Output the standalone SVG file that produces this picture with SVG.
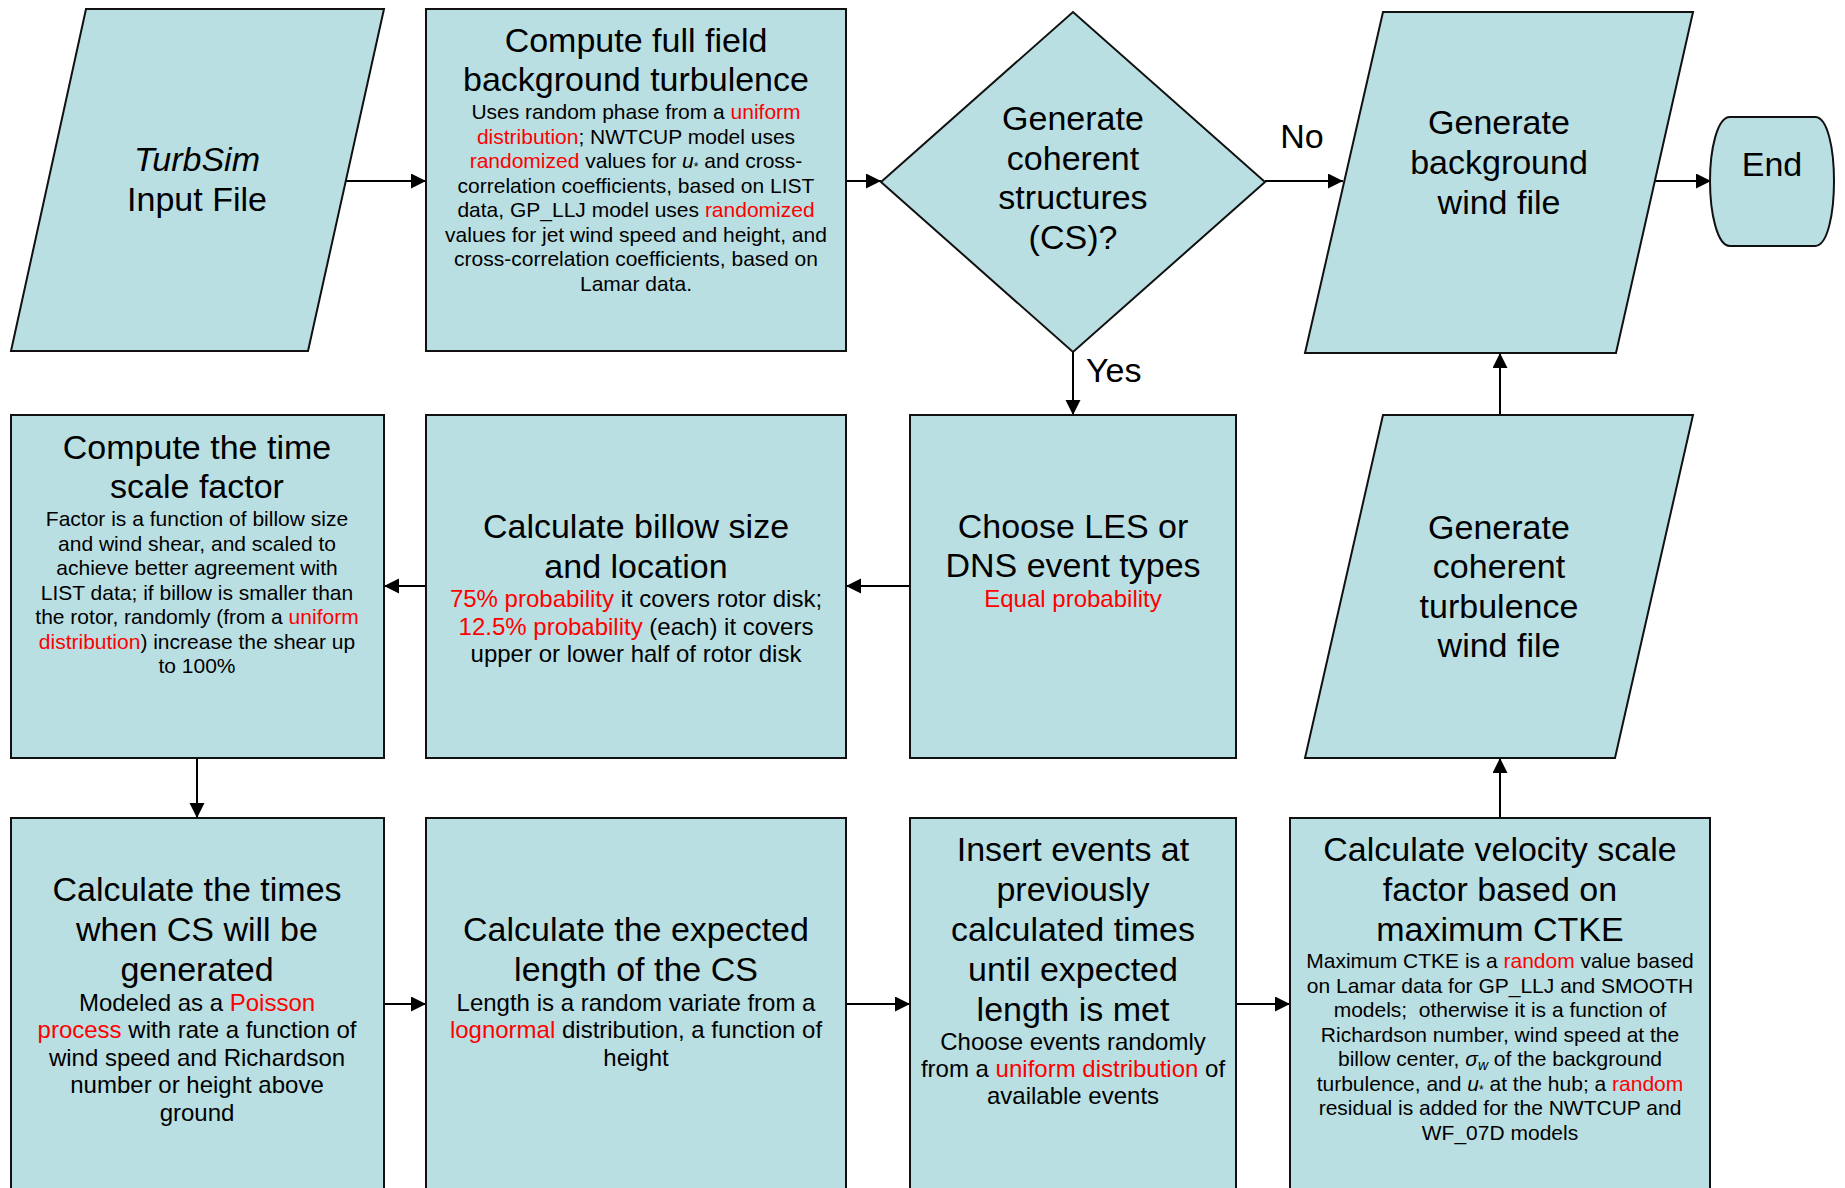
<svg xmlns="http://www.w3.org/2000/svg" width="1845" height="1188" viewBox="0 0 1845 1188">
<defs>
<style>
.n{fill:#B9DFE3;stroke:#111;stroke-width:2}
.c{stroke:#000;stroke-width:2;fill:none;marker-end:url(#ah)}
text{font-family:"Liberation Sans",Arial,sans-serif;fill:#000;text-anchor:middle}
.t{font-size:34px}
.b{font-size:21px}
.m{font-size:24px}
.r{fill:#FF0000}
.i{font-style:italic}
</style>
<marker id="ah" markerUnits="userSpaceOnUse" markerWidth="16" markerHeight="16" refX="15" refY="7.5" orient="auto">
<path d="M0,0 L15,7.5 L0,15 Z" fill="#000"/>
</marker>
</defs>
<rect width="1845" height="1188" fill="#fff"/>

<g id="connectors">
<path class="c" d="M346,181 L426,181"/>
<path class="c" d="M846,181 L881,181"/>
<path class="c" d="M1265,181 L1343,181"/>
<path class="c" d="M1655,181 L1711,181"/>
<path class="c" d="M1073,352 L1073,415"/>
<path class="c" d="M910,586 L846,586"/>
<path class="c" d="M426,586 L384,586"/>
<path class="c" d="M1500,415 L1500,353"/>
<path class="c" d="M197,758 L197,818"/>
<path class="c" d="M384,1004 L426,1004"/>
<path class="c" d="M846,1004 L910,1004"/>
<path class="c" d="M1236,1004 L1290,1004"/>
<path class="c" d="M1500,818 L1500,758"/>
<text class="t" x="1302" y="148">No</text>
<text class="t" x="1086" y="382" style="text-anchor:start">Yes</text>
</g>

<g id="input">
<path class="n" d="M86,9 L384,9 L308,351 L11,351 Z"/>
<text class="t i" x="197" y="171">TurbSim</text>
<text class="t" x="197" y="211">Input File</text>
</g>

<g id="background-turbulence">
<rect class="n" x="426" y="9" width="420" height="342"/>
<text class="t" x="636" y="52">Compute full field</text>
<text class="t" x="636" y="91">background turbulence</text>
<text class="b" x="636" y="119">Uses random phase from a <tspan class="r">uniform</tspan></text>
<text class="b" x="636" y="143.5"><tspan class="r">distribution</tspan>; NWTCUP model uses</text>
<text class="b" x="636" y="168"><tspan class="r">randomized</tspan> values for <tspan class="i">u</tspan><tspan font-size="12" dy="3">*</tspan><tspan dy="-3"> and cross-</tspan></text>
<text class="b" x="636" y="192.5">correlation coefficients, based on LIST</text>
<text class="b" x="636" y="217">data, GP_LLJ model uses <tspan class="r">randomized</tspan></text>
<text class="b" x="636" y="241.5">values for jet wind speed and height, and</text>
<text class="b" x="636" y="266">cross-correlation coefficients, based on</text>
<text class="b" x="636" y="290.5">Lamar data.</text>
</g>

<g id="decision">
<path class="n" d="M881,182 L1073,12 L1265,182 L1073,352 Z"/>
<text class="t" x="1073" y="130">Generate</text>
<text class="t" x="1073" y="170">coherent</text>
<text class="t" x="1073" y="209">structures</text>
<text class="t" x="1073" y="249">(CS)?</text>
</g>

<g id="background-wind-file">
<path class="n" d="M1383,12 L1693,12 L1616,353 L1305,353 Z"/>
<text class="t" x="1499" y="134">Generate</text>
<text class="t" x="1499" y="174">background</text>
<text class="t" x="1499" y="214">wind file</text>
</g>

<g id="end">
<path class="n" d="M1730,117 L1815,117 C1828,117 1834,150 1834,181 C1834,212 1828,246 1815,246 L1730,246 C1717,246 1710,212 1710,181 C1710,150 1717,117 1730,117 Z"/>
<text class="t" x="1772" y="176">End</text>
</g>

<g id="time-scale">
<rect class="n" x="11" y="415" width="373" height="343"/>
<text class="t" x="197" y="459">Compute the time</text>
<text class="t" x="197" y="498">scale factor</text>
<text class="b" x="197" y="526">Factor is a function of billow size</text>
<text class="b" x="197" y="550.5">and wind shear, and scaled to</text>
<text class="b" x="197" y="575">achieve better agreement with</text>
<text class="b" x="197" y="599.5">LIST data; if billow is smaller than</text>
<text class="b" x="197" y="624">the rotor, randomly (from a <tspan class="r">uniform</tspan></text>
<text class="b" x="197" y="648.5"><tspan class="r">distribution</tspan>) increase the shear up</text>
<text class="b" x="197" y="673">to 100%</text>
</g>

<g id="billow">
<rect class="n" x="426" y="415" width="420" height="343"/>
<text class="t" x="636" y="538">Calculate billow size</text>
<text class="t" x="636" y="578">and location</text>
<text class="m" x="636" y="607"><tspan class="r">75% probability</tspan> it covers rotor disk;</text>
<text class="m" x="636" y="635"><tspan class="r">12.5% probability</tspan> (each) it covers</text>
<text class="m" x="636" y="662">upper or lower half of rotor disk</text>
</g>

<g id="event-types">
<rect class="n" x="910" y="415" width="326" height="343"/>
<text class="t" x="1073" y="538">Choose LES or</text>
<text class="t" x="1073" y="577">DNS event types</text>
<text class="m r" x="1073" y="607">Equal probability</text>
</g>

<g id="coherent-wind-file">
<path class="n" d="M1383,415 L1693,415 L1615,758 L1305,758 Z"/>
<text class="t" x="1499" y="539">Generate</text>
<text class="t" x="1499" y="578">coherent</text>
<text class="t" x="1499" y="618">turbulence</text>
<text class="t" x="1499" y="657">wind file</text>
</g>

<g id="cs-times">
<rect class="n" x="11" y="818" width="373" height="385"/>
<text class="t" x="197" y="901">Calculate the times</text>
<text class="t" x="197" y="941">when CS will be</text>
<text class="t" x="197" y="981">generated</text>
<text class="m" x="197" y="1011">Modeled as a <tspan class="r">Poisson</tspan></text>
<text class="m" x="197" y="1038"><tspan class="r">process</tspan> with rate a function of</text>
<text class="m" x="197" y="1066">wind speed and Richardson</text>
<text class="m" x="197" y="1093">number or height above</text>
<text class="m" x="197" y="1121">ground</text>
</g>

<g id="cs-length">
<rect class="n" x="426" y="818" width="420" height="385"/>
<text class="t" x="636" y="941">Calculate the expected</text>
<text class="t" x="636" y="981">length of the CS</text>
<text class="m" x="636" y="1011">Length is a random variate from a</text>
<text class="m" x="636" y="1038"><tspan class="r">lognormal</tspan> distribution, a function of</text>
<text class="m" x="636" y="1066">height</text>
</g>

<g id="insert-events">
<rect class="n" x="910" y="818" width="326" height="385"/>
<text class="t" x="1073" y="861">Insert events at</text>
<text class="t" x="1073" y="901">previously</text>
<text class="t" x="1073" y="941">calculated times</text>
<text class="t" x="1073" y="981">until expected</text>
<text class="t" x="1073" y="1021">length is met</text>
<text class="m" x="1073" y="1050">Choose events randomly</text>
<text class="m" x="1073" y="1077">from a <tspan class="r">uniform distribution</tspan> of</text>
<text class="m" x="1073" y="1104">available events</text>
</g>

<g id="velocity-scale">
<rect class="n" x="1290" y="818" width="420" height="385"/>
<text class="t" x="1500" y="861">Calculate velocity scale</text>
<text class="t" x="1500" y="901">factor based on</text>
<text class="t" x="1500" y="941">maximum CTKE</text>
<text class="b" x="1500" y="968">Maximum CTKE is a <tspan class="r">random</tspan> value based</text>
<text class="b" x="1500" y="992.5">on Lamar data for GP_LLJ and SMOOTH</text>
<text class="b" x="1500" y="1017">models;&#160; otherwise it is a function of</text>
<text class="b" x="1500" y="1041.5">Richardson number, wind speed at the</text>
<text class="b" x="1500" y="1066">billow center, <tspan class="i">σ</tspan><tspan class="i" font-size="14" dy="4">w</tspan><tspan dy="-4"> of the background</tspan></text>
<text class="b" x="1500" y="1090.5">turbulence, and <tspan class="i">u</tspan><tspan font-size="12" dy="3">*</tspan><tspan dy="-3"> at the hub; a </tspan><tspan class="r">random</tspan></text>
<text class="b" x="1500" y="1115">residual is added for the NWTCUP and</text>
<text class="b" x="1500" y="1139.5">WF_07D models</text>
</g>
</svg>
